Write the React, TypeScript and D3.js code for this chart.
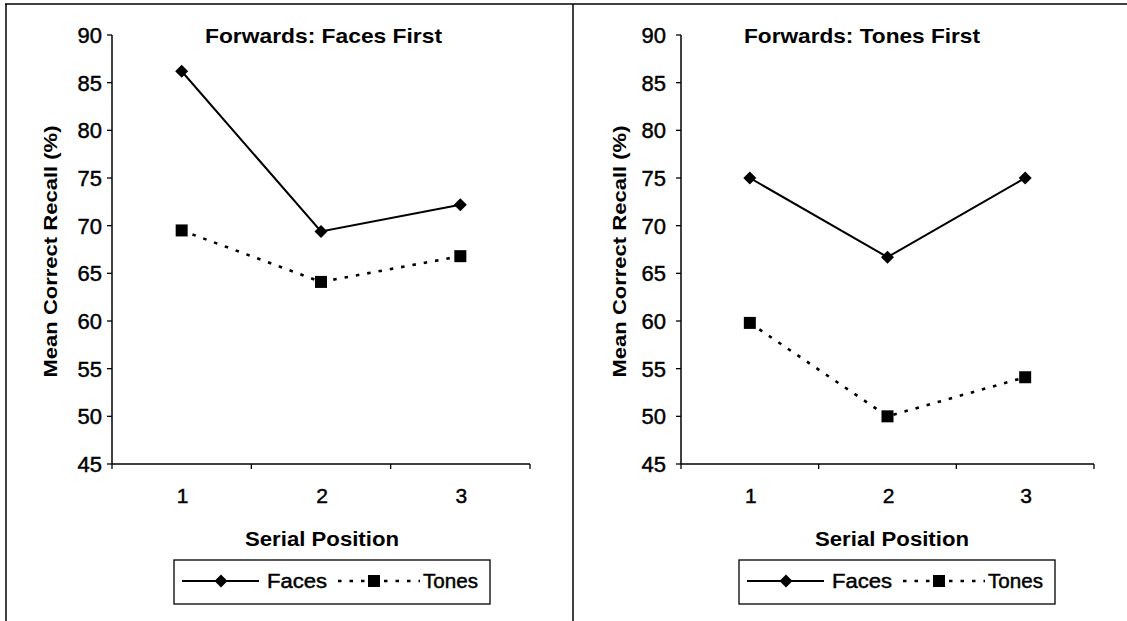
import React from "react";
import * as d3 from "d3";

const positions = ["1", "2", "3"];
const yTicks = [45, 50, 55, 60, 65, 70, 75, 80, 85, 90];
const seriesNames = ["Faces", "Tones"];
const panelTitles = ["Forwards: Faces First", "Forwards: Tones First"];
const facesFirstFaces = [86.2, 69.4, 72.2];
const facesFirstTones = [69.5, 64.1, 66.8];
const tonesFirstFaces = [75.0, 66.7, 75.0];
const tonesFirstTones = [59.8, 50.0, 54.1];

const FONT = "'Liberation Sans', Arial, Helvetica, sans-serif";
const Y_TOP = 35;
const Y_BOT = 464;

type PanelProps = {
  x0: number;
  x1: number;
  title: string;
  titleX: number;
  titleLen: number;
  faces: number[];
  tones: number[];
  yTitleX: number;
  labelGap: number;
  legendX: number;
  xTitleX: number;
};

function Diamond({ cx, cy, r }: { cx: number; cy: number; r: number }) {
  const p = d3.path();
  p.moveTo(cx, cy - r);
  p.lineTo(cx + r, cy);
  p.lineTo(cx, cy + r);
  p.lineTo(cx - r, cy);
  p.closePath();
  return <path d={p.toString()} fill="#000" />;
}

function Square({ cx, cy, r }: { cx: number; cy: number; r: number }) {
  return <rect x={cx - r} y={cy - r} width={2 * r} height={2 * r} fill="#000" />;
}

const heavy = { stroke: "#000", strokeWidth: 0.45 };

function Panel(props: PanelProps) {
  const { x0, x1, title, titleX, titleLen, faces, tones, yTitleX, labelGap, legendX, xTitleX } = props;
  const y = d3.scaleLinear().domain([45, 90]).range([Y_BOT, Y_TOP]);
  const x = d3.scaleBand<string>().domain(positions).range([x0, x1]).padding(0);
  const cx = (c: string) => (x(c) as number) + x.bandwidth() / 2;
  const line = d3
    .line<number>()
    .x((_, i) => cx(positions[i]))
    .y((v) => y(v));
  const boundaries = [...positions.map((p) => x(p) as number), x1];

  const lg = legendX;
  const ly = 581;
  return (
    <g>
      {/* title */}
      <text x={titleX} y={43} fontFamily={FONT} fontWeight="bold" fontSize={21} textLength={titleLen} lengthAdjust="spacingAndGlyphs">
        {title}
      </text>
      {/* y axis */}
      <line x1={x0} x2={x0} y1={Y_TOP} y2={Y_BOT} stroke="#000" strokeWidth={1.5} />
      {yTicks.map((t) => (
        <g key={t}>
          <line x1={x0 - 5} x2={x0} y1={y(t)} y2={y(t)} stroke="#000" strokeWidth={1.3} />
          <text x={x0 - labelGap} y={y(t)} dy="0.36em" textAnchor="end" fontFamily={FONT} fontSize={22} {...heavy}>
            {t}
          </text>
        </g>
      ))}
      {/* x axis */}
      <line x1={x0} x2={x1} y1={Y_BOT} y2={Y_BOT} stroke="#000" strokeWidth={1.5} />
      {boundaries.map((b, i) => (
        <line key={i} x1={b} x2={b} y1={Y_BOT} y2={Y_BOT + 5} stroke="#000" strokeWidth={1.3} />
      ))}
      {positions.map((p) => (
        <text key={p} x={cx(p) + 1} y={503} textAnchor="middle" fontFamily={FONT} fontSize={21} {...heavy}>
          {p}
        </text>
      ))}
      <text x={xTitleX} y={546} textAnchor="middle" fontFamily={FONT} fontWeight="bold" fontSize={20} textLength={154} lengthAdjust="spacingAndGlyphs">
        Serial Position
      </text>
      <text
        transform={`translate(${yTitleX},${(Y_TOP + Y_BOT) / 2 + 2}) rotate(-90)`}
        textAnchor="middle"
        fontFamily={FONT}
        fontWeight="bold"
        fontSize={19}
        textLength={252}
        lengthAdjust="spacingAndGlyphs"
      >
        Mean Correct Recall (%)
      </text>
      {/* series */}
      <path d={line(faces) || ""} fill="none" stroke="#000" strokeWidth={2} />
      <path d={line(tones) || ""} fill="none" stroke="#000" strokeWidth={2.6} strokeDasharray="3.5 8" />
      {faces.map((v, i) => (
        <Diamond key={"f" + i} cx={cx(positions[i])} cy={y(v)} r={6.5} />
      ))}
      {tones.map((v, i) => (
        <Square key={"t" + i} cx={cx(positions[i])} cy={y(v)} r={6} />
      ))}
      {/* legend */}
      <rect x={lg} y={560} width={316} height={44} fill="#fff" stroke="#000" strokeWidth={1.3} />
      <line x1={lg + 8} x2={lg + 85} y1={ly} y2={ly} stroke="#000" strokeWidth={2} />
      <Diamond cx={lg + 47} cy={ly} r={6.5} />
      <text x={lg + 93} y={ly + 7} fontFamily={FONT} fontSize={20} textLength={60} lengthAdjust="spacingAndGlyphs" {...heavy}>
        {seriesNames[0]}
      </text>
      <line x1={lg + 164} x2={lg + 246} y1={ly} y2={ly} stroke="#000" strokeWidth={2.6} strokeDasharray="3.5 8" />
      <Square cx={lg + 200} cy={ly} r={6} />
      <text x={lg + 249} y={ly + 7} fontFamily={FONT} fontSize={20} textLength={55} lengthAdjust="spacingAndGlyphs" {...heavy}>
        {seriesNames[1]}
      </text>
    </g>
  );
}

export default function App() {
  return (
    <div style={{ position: "fixed", left: 0, top: 0 }}>
      <svg width={1127} height={621} style={{ display: "block", background: "#fff" }}>
        <rect x={0} y={0} width={1127} height={621} fill="#fff" />
        <line x1={5} x2={1127} y1={4} y2={4} stroke="#000" strokeWidth={1.5} />
        <line x1={6} x2={6} y1={4} y2={621} stroke="#000" strokeWidth={1.5} />
        <line x1={573} x2={573} y1={4} y2={621} stroke="#000" strokeWidth={1.5} />
        <Panel
          x0={112}
          x1={530}
          title={panelTitles[0]}
          titleX={205}
          titleLen={237}
          faces={facesFirstFaces}
          tones={facesFirstTones}
          yTitleX={57}
          labelGap={10}
          legendX={174}
          xTitleX={322}
        />
        <Panel
          x0={681}
          x1={1094}
          title={panelTitles[1]}
          titleX={744}
          titleLen={236}
          faces={tonesFirstFaces}
          tones={tonesFirstTones}
          yTitleX={626}
          labelGap={15}
          legendX={739}
          xTitleX={892}
        />
      </svg>
    </div>
  );
}
